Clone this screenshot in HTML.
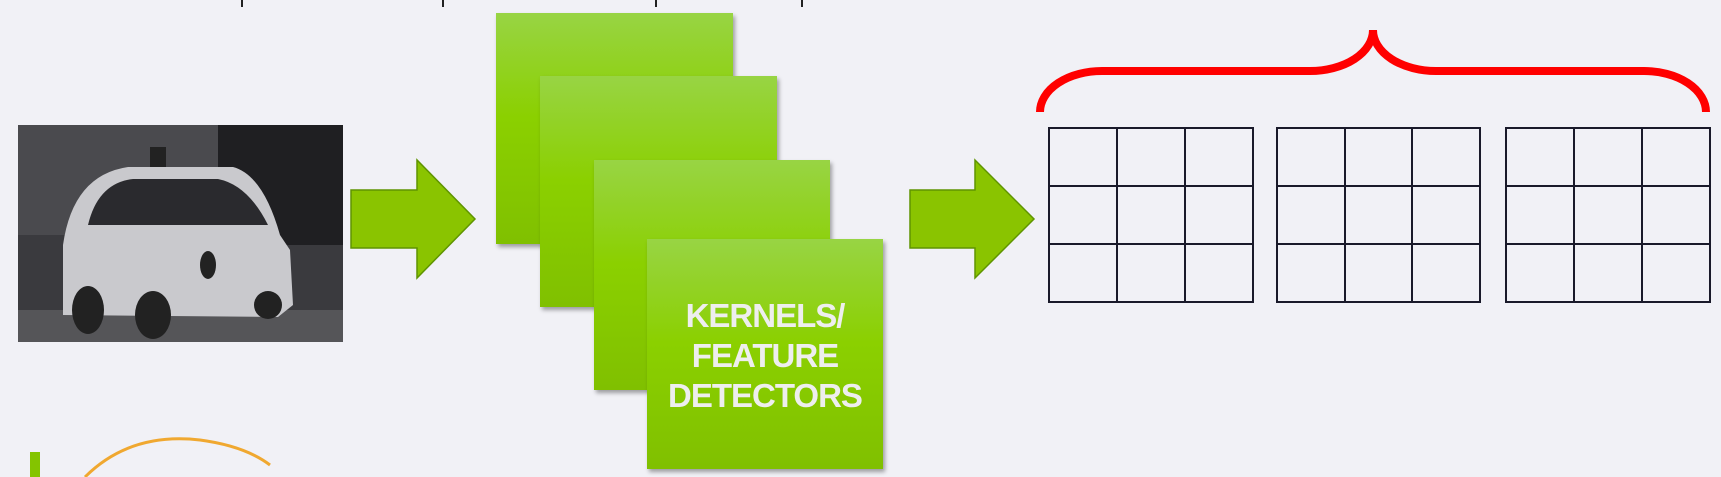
<!DOCTYPE html>
<html><head><style>
html,body{margin:0;padding:0;}
body{width:1721px;height:477px;background:#f1f1f6;position:relative;overflow:hidden;font-family:"Liberation Sans",sans-serif;}
.sq{position:absolute;background:linear-gradient(#98d444,#8bd000 45%,#80c000);box-shadow:2px 3px 4px rgba(0,0,0,.35);}
.tick{position:absolute;top:0;width:2px;height:7px;background:#222;}
</style></head><body>
<div class="tick" style="left:241px"></div>
<div class="tick" style="left:442px"></div>
<div class="tick" style="left:655px"></div>
<div class="tick" style="left:801px"></div>

<svg style="position:absolute;left:18px;top:125px" width="325" height="217" viewBox="0 0 325 217">
<rect width="325" height="217" fill="#3a3a3e"/>
<rect x="0" y="0" width="325" height="110" fill="#4a4a4e"/>
<rect x="200" y="0" width="125" height="120" fill="#1f1f22"/>
<rect x="0" y="185" width="325" height="32" fill="#555558"/>
<path d="M45 190 L45 120 Q55 50 110 42 L215 42 Q245 50 262 110 L272 125 L275 180 L260 192 Z" fill="#c9c9cd"/>
<path d="M70 100 Q80 58 115 54 L200 54 Q230 60 250 100 Z" fill="#2a2a2e"/>
<rect x="132" y="22" width="16" height="20" fill="#222"/>
<ellipse cx="70" cy="185" rx="16" ry="24" fill="#222"/>
<ellipse cx="135" cy="190" rx="18" ry="24" fill="#222"/>
<ellipse cx="250" cy="180" rx="14" ry="14" fill="#222"/>
<ellipse cx="190" cy="140" rx="8" ry="14" fill="#222"/>
</svg>

<svg style="position:absolute;left:0;top:0" width="1721" height="477">
<polygon points="351,190 417,190 417,160 475,219 417,278 417,248 351,248" fill="#8ac400" stroke="#5f9400" stroke-width="1.5"/>
<polygon points="910,190 975,190 975,160 1034,219 975,278 975,248 910,248" fill="#8ac400" stroke="#5f9400" stroke-width="1.5"/>
</svg>

<div class="sq" style="left:496px;top:13px;width:237px;height:231px"></div>
<div class="sq" style="left:540px;top:76px;width:237px;height:231px"></div>
<div class="sq" style="left:594px;top:160px;width:236px;height:230px"></div>
<div class="sq" style="left:647px;top:239px;width:236px;height:230px;color:#eeeeee;font-weight:bold;font-size:33px;letter-spacing:-1px;line-height:40px;text-align:center;box-sizing:border-box;padding-top:57px;">KERNELS/<br>FEATURE<br>DETECTORS</div>

<svg style="position:absolute;left:0;top:0" width="1721" height="477">
<g fill="none" stroke="#1a1a2a" stroke-width="2">
<rect x="1049" y="128" width="204" height="174"/>
<line x1="1117" y1="128" x2="1117" y2="302"/><line x1="1185" y1="128" x2="1185" y2="302"/>
<line x1="1049" y1="186" x2="1253" y2="186"/><line x1="1049" y1="244" x2="1253" y2="244"/>
<rect x="1277" y="128" width="203" height="174"/>
<line x1="1345" y1="128" x2="1345" y2="302"/><line x1="1412" y1="128" x2="1412" y2="302"/>
<line x1="1277" y1="186" x2="1480" y2="186"/><line x1="1277" y1="244" x2="1480" y2="244"/>
<rect x="1506" y="128" width="204" height="174"/>
<line x1="1574" y1="128" x2="1574" y2="302"/><line x1="1642" y1="128" x2="1642" y2="302"/>
<line x1="1506" y1="186" x2="1710" y2="186"/><line x1="1506" y1="244" x2="1710" y2="244"/>
</g>
<path d="M1040,112 A62,41 0 0 1 1102,71 L1310,71 A63,41 0 0 0 1373,30 A63,41 0 0 0 1436,71 L1644,71 A62,41 0 0 1 1706,112" fill="none" stroke="#ff0000" stroke-width="8"/>
<rect x="30" y="452" width="10" height="25" fill="#84c400"/>
<path d="M85,477 Q130,432 200,440 Q245,446 270,465" fill="none" stroke="#f0a830" stroke-width="3"/>
</svg>
</body></html>
